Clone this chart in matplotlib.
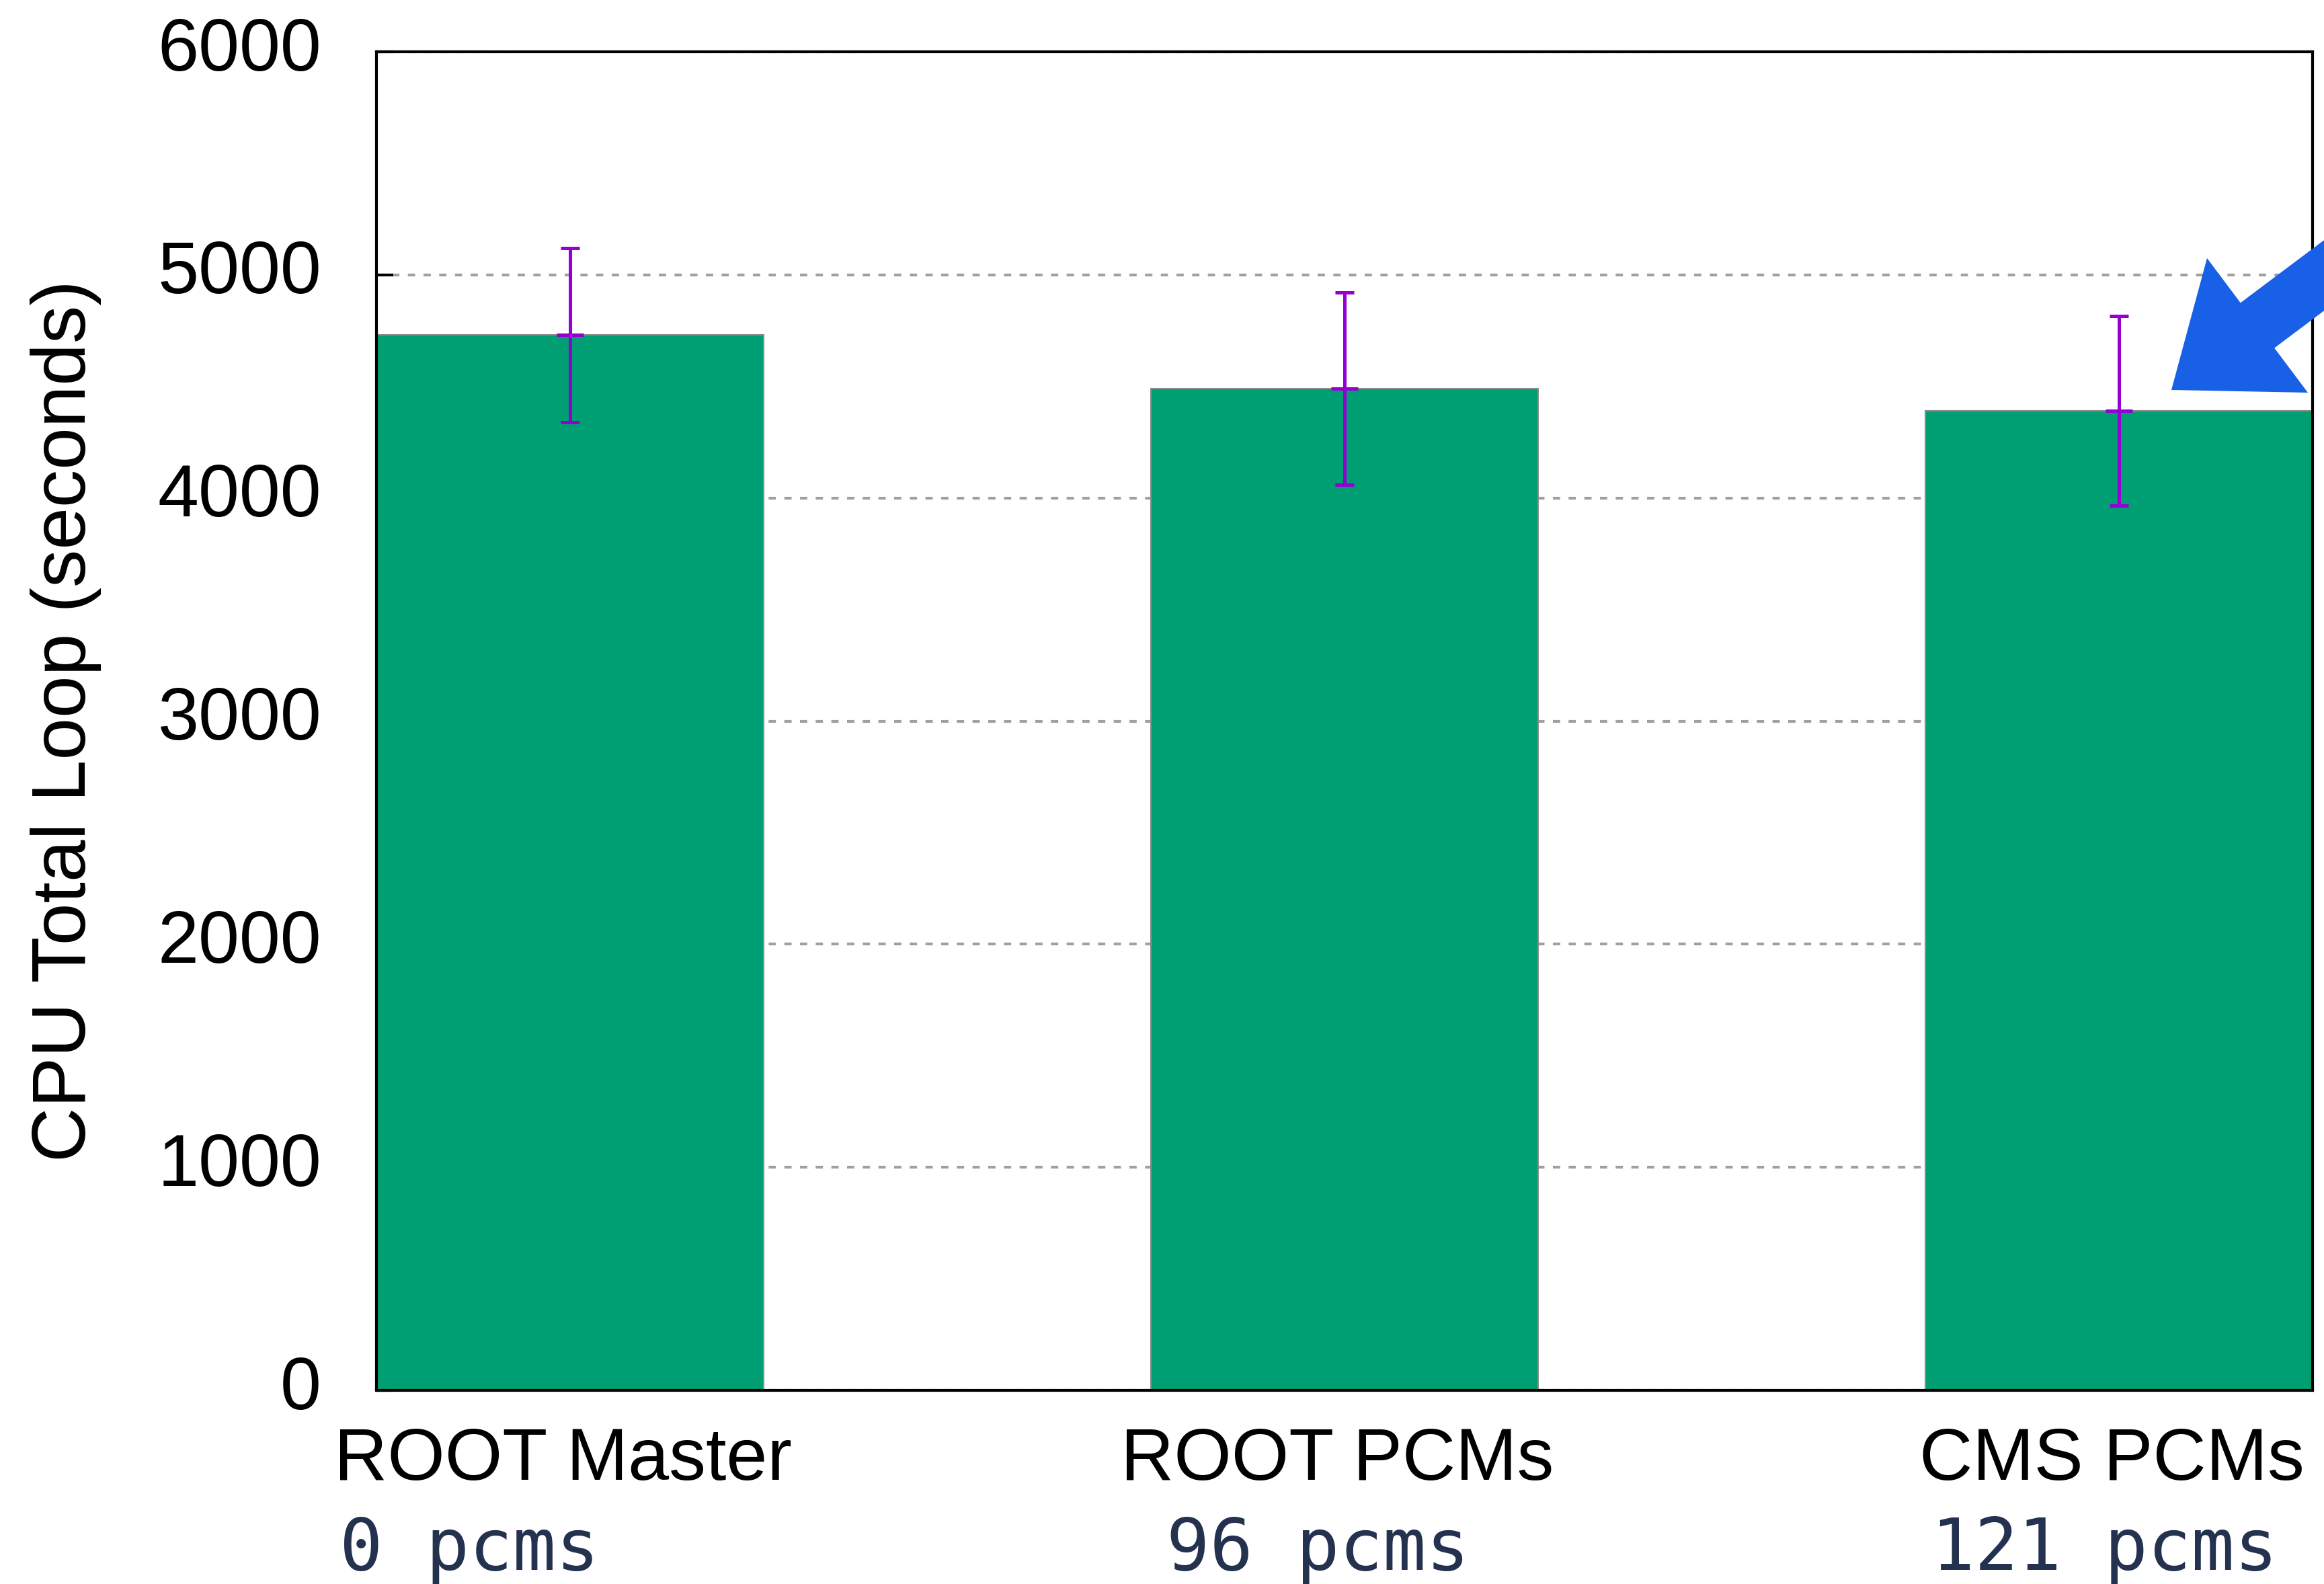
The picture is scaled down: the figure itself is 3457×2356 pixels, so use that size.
import matplotlib
matplotlib.use("Agg")
import matplotlib.pyplot as plt
import matplotlib.transforms as mtransforms
from matplotlib.patches import FancyArrow
import numpy as np

# Values
builds = ["ROOT Master", "ROOT PCMs", "CMS PCMs"]
pcm_counts = ["0 pcms", "96 pcms", "121 pcms"]
loop_time = [4730, 4490, 4390]
loop_err = [390, 430, 425]
yticks = [0, 1000, 2000, 3000, 4000, 5000, 6000]

plt.rcParams["font.family"] = ["Liberation Sans", "DejaVu Sans"]

fig = plt.figure(figsize=(34.57, 23.56), dpi=100)
ax = fig.add_axes([0.162, 0.1222, 0.8331, 0.8451])

x = np.arange(len(builds))
ax.bar(x, loop_time, width=0.5, color="#009e73", edgecolor="#8c8c8c",
       linewidth=1.5, zorder=2)
ax.errorbar(x, loop_time, yerr=loop_err, fmt="_", color="#9400d3",
            ecolor="#9400d3", elinewidth=3.6, capsize=10, capthick=3.6,
            markersize=29, markeredgewidth=3.6, zorder=3)

ax.set_xlim(-0.25, 2.25)
ax.set_ylim(0, 6000)
ax.set_yticks(yticks)
ax.set_xticks(x)
ax.set_xticklabels(builds)

# gnuplot-like dashed grey grid
ax.yaxis.grid(True, color="#a0a0a0", linestyle=(0, (2.6, 3.0)), linewidth=3)
ax.set_axisbelow(True)

ax.tick_params(axis="y", direction="in", length=18, width=3, pad=59,
               labelsize=79)
ax.tick_params(axis="x", length=0, pad=39, labelsize=79)
for sp in ax.spines.values():
    sp.set_linewidth(3)
    sp.set_zorder(4)

# tick labels sit a little above their gridline in the original
offset = mtransforms.ScaledTranslation(0, 0.12, fig.dpi_scale_trans)
for lab in ax.get_yticklabels():
    lab.set_transform(lab.get_transform() + offset)
xoffset = mtransforms.ScaledTranslation(-0.11, 0, fig.dpi_scale_trans)
for lab in ax.get_xticklabels():
    lab.set_transform(lab.get_transform() + xoffset)

ax.set_ylabel("CPU Total Loop (seconds)", fontsize=81)
ax.yaxis.set_label_coords(-0.142, 0.5)

# second line under each category
pcm_x = [0.1461, 0.5019, 0.8311]
for px, txt in zip(pcm_x, pcm_counts):
    fig.text(px, 0.009, txt, family="DejaVu Sans Mono", fontsize=77,
             color="#24314f", ha="left", va="baseline")

# big blue pointer at the last bar
arrow = FancyArrow(35.50, 20.16, -3.20, -2.40, width=0.84, head_width=2.50,
                   head_length=1.60, length_includes_head=True,
                   color="#1860e6", linewidth=0,
                   transform=fig.dpi_scale_trans)
fig.add_artist(arrow)

fig.savefig("out.png", dpi=100)
